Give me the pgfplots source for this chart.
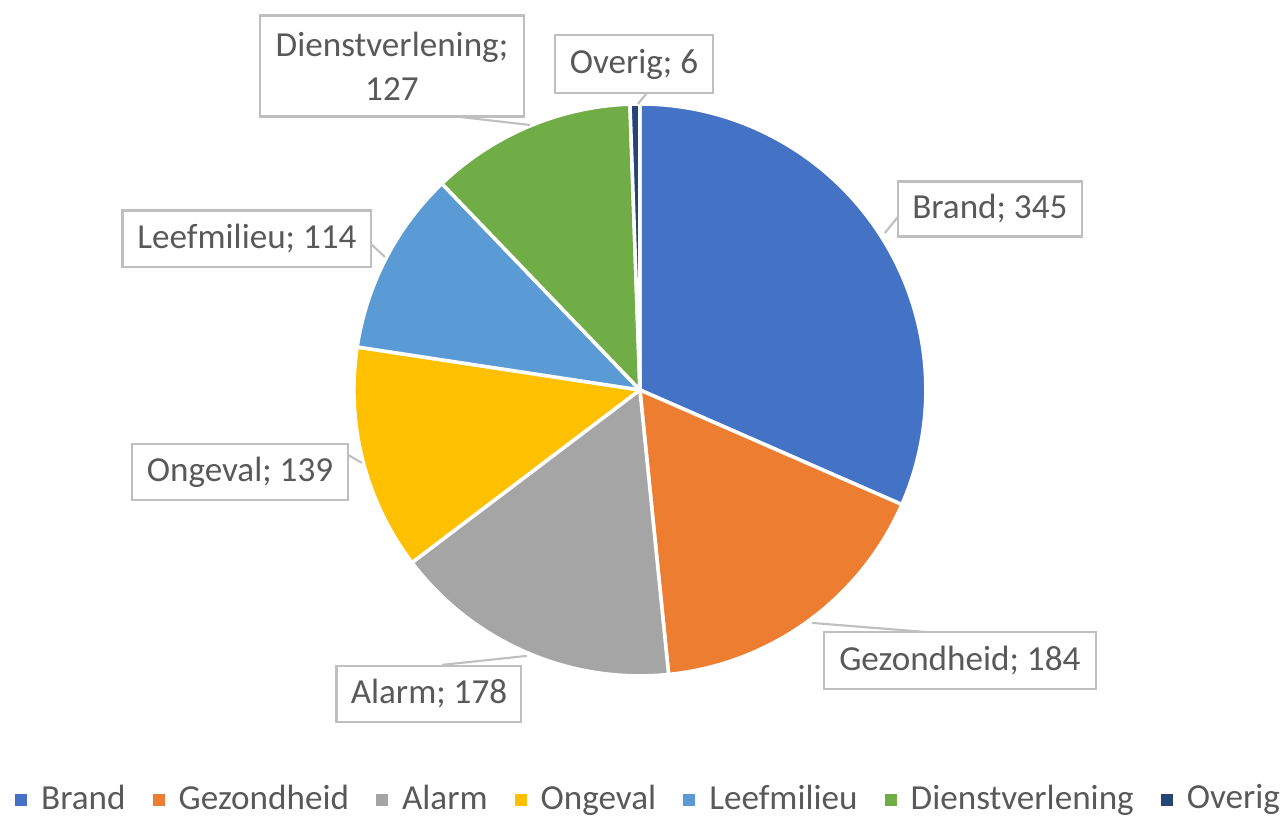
\documentclass[border=0pt]{standalone}
\usepackage{pgfplots}
\pgfplotsset{compat=1.18}
\usepackage{fontspec}
\setmainfont{Carlito}
\definecolor{cBrand}{HTML}{4472C4}
\definecolor{cGez}{HTML}{ED7D31}
\definecolor{cAlarm}{HTML}{A5A5A5}
\definecolor{cOng}{HTML}{FFC000}
\definecolor{cLeef}{HTML}{5B9BD5}
\definecolor{cDienst}{HTML}{70AD47}
\definecolor{cOverig}{HTML}{264478}
\definecolor{txt}{HTML}{595959}
\definecolor{boxc}{HTML}{BFBFBF}
\newcommand\R{2.86cm}
\newcommand\pieWedge[3]{%
  \fill[#3, draw=white, line width=1pt, line join=round] (axis cs:640,426) -- ([shift={(#1:\R)}]axis cs:640,426) arc[start angle=#1, end angle=#2, radius=\R] -- cycle;}
\begin{document}
\begin{tikzpicture}
% values
\def\vBrand{345}\def\vGez{184}\def\vAlarm{178}\def\vOng{139}\def\vLeef{114}\def\vDienst{127}\def\vOverig{6}
\pgfmathsetmacro\tot{\vBrand+\vGez+\vAlarm+\vOng+\vLeef+\vDienst+\vOverig}
\pgfmathsetmacro\aA{90}
\pgfmathsetmacro\aB{\aA-\vBrand/\tot*360}
\pgfmathsetmacro\aC{\aB-\vGez/\tot*360}
\pgfmathsetmacro\aD{\aC-\vAlarm/\tot*360}
\pgfmathsetmacro\aE{\aD-\vOng/\tot*360}
\pgfmathsetmacro\aF{\aE-\vLeef/\tot*360}
\pgfmathsetmacro\aG{\aF-\vDienst/\tot*360}
\pgfmathsetmacro\aH{\aG-\vOverig/\tot*360}
\begin{axis}[width=12.87cm, height=8.16cm, scale only axis,
  xmin=0, xmax=1287, ymin=0, ymax=816, hide axis, clip=false,
  legend columns=7,
  legend style={draw=none, fill=none, at={(0.506,0.02)}, anchor=center,
    font=\fontsize{10}{12}\selectfont\color{txt},
    /tikz/every odd column/.append style={column sep=0.07cm},
    /tikz/every even column/.append style={column sep=0.2cm},
    inner sep=0pt},
  legend image code/.code={\fill (0cm,-0.06cm) rectangle (0.12cm,0.06cm);},
  ]
\path (axis cs:0,0) rectangle (axis cs:1287,816);
\pieWedge{\aA}{\aB}{cBrand}
\pieWedge{\aB}{\aC}{cGez}
\pieWedge{\aC}{\aD}{cAlarm}
\pieWedge{\aD}{\aE}{cOng}
\pieWedge{\aE}{\aF}{cLeef}
\pieWedge{\aF}{\aG}{cDienst}
\pieWedge{\aG}{\aH}{cOverig}
\addlegendimage{fill=cBrand, draw=none}\addlegendentry{Brand}
\addlegendimage{fill=cGez, draw=none}\addlegendentry{Gezondheid}
\addlegendimage{fill=cAlarm, draw=none}\addlegendentry{Alarm}
\addlegendimage{fill=cOng, draw=none}\addlegendentry{Ongeval}
\addlegendimage{fill=cLeef, draw=none}\addlegendentry{Leefmilieu}
\addlegendimage{fill=cDienst, draw=none}\addlegendentry{Dienstverlening}
\addlegendimage{fill=cOverig, draw=none}\addlegendentry{Overig}
% leader lines
\begin{scope}[draw=boxc, line width=0.6pt]
\draw (axis cs:647,723) -- (axis cs:638,712);
\draw (axis cs:460,699) -- (axis cs:530,691);
\draw (axis cs:898,599) -- (axis cs:885,583);
\draw (axis cs:372,571) -- (axis cs:385,559);
\draw (axis cs:348,361) -- (axis cs:362,353);
\draw (axis cs:442,151) -- (axis cs:527,160);
\draw (axis cs:937,183) -- (axis cs:812,193);
\end{scope}
% labels
\tikzset{lab/.style={draw=boxc, fill=white, line width=0.6pt, text=txt, font=\fontsize{10}{12.5}\selectfont, align=center, inner sep=0pt}}
\node[lab, minimum width=1.58cm, minimum height=0.58cm] at (axis cs:634,752) {Overig; 6};
\node[lab, minimum width=2.64cm, minimum height=1.01cm] at (axis cs:392,750) {Dienstverlening;\\127};
\node[lab, minimum width=1.84cm, minimum height=0.55cm] at (axis cs:990,607) {Brand; 345};
\node[lab, minimum width=2.49cm, minimum height=0.57cm] at (axis cs:247,577) {Leefmilieu; 114};
\node[lab, minimum width=2.16cm, minimum height=0.56cm] at (axis cs:240,344) {Ongeval; 139};
\node[lab, minimum width=1.85cm, minimum height=0.56cm] at (axis cs:429,122) {Alarm; 178};
\node[lab, minimum width=2.72cm, minimum height=0.57cm] at (axis cs:960,155) {Gezondheid; 184};
\end{axis}
\end{tikzpicture}
\end{document}
